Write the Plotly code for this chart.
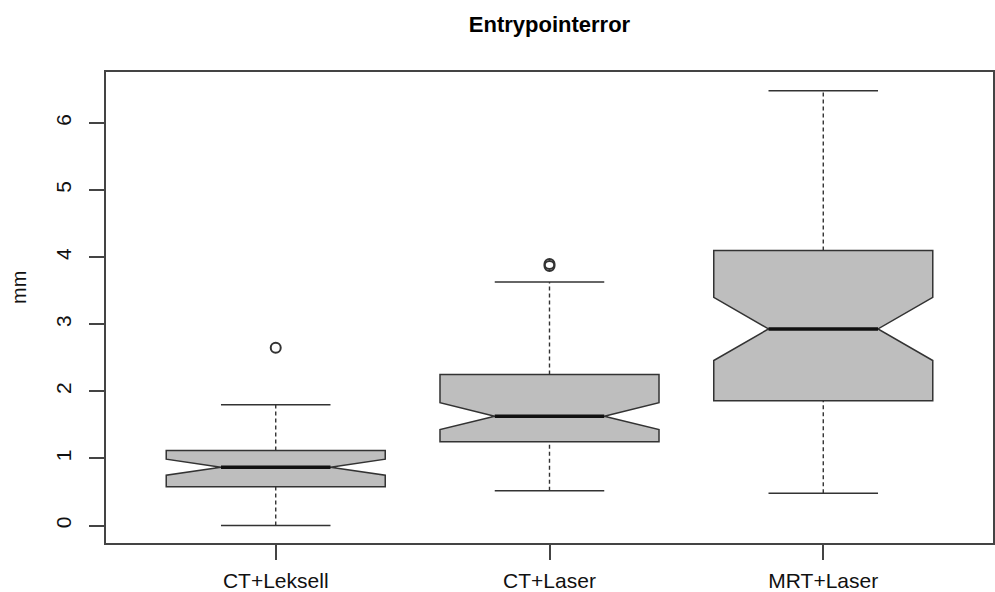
import plotly.graph_objects as go

# Entry point error (mm) per targeting method
categories = ["CT+Leksell", "CT+Laser", "MRT+Laser"]
lower_whisker = [0.00, 0.52, 0.48]
q1 = [0.58, 1.25, 1.86]
median = [0.87, 1.63, 2.93]
q3 = [1.12, 2.25, 4.10]
upper_whisker = [1.80, 3.63, 6.48]
notch_half = [0.12, 0.20, 0.47]

outlier_group = [0, 1, 1]
outlier_value = [2.65, 3.87, 3.90]

y_ticks = [0, 1, 2, 3, 4, 5, 6]

pos = [i + 1 for i in range(len(categories))]
edge = "#333333"
fill = "#bebebe"
font_family = "Liberation Sans, Arial, sans-serif"

fig = go.Figure()

# dashed whiskers, drawn under the boxes
wx, wy = [], []
for p, lo, a, b, hi in zip(pos, lower_whisker, q1, q3, upper_whisker):
    wx += [p, p, None, p, p, None]
    wy += [lo, a, None, b, hi, None]
fig.add_trace(go.Scatter(x=wx, y=wy, mode="lines",
                         line=dict(color=edge, width=1.4, dash="4px,3px"),
                         hoverinfo="skip", showlegend=False))

# whisker caps
cx, cy = [], []
for p, lo, hi in zip(pos, lower_whisker, upper_whisker):
    cx += [p - 0.2, p + 0.2, None, p - 0.2, p + 0.2, None]
    cy += [lo, lo, None, hi, hi, None]
fig.add_trace(go.Scatter(x=cx, y=cy, mode="lines",
                         line=dict(color=edge, width=1.5),
                         hoverinfo="skip", showlegend=False))

# notched boxes from precomputed statistics
fig.add_trace(go.Box(
    x=pos, q1=q1, median=median, q3=q3,
    lowerfence=q1, upperfence=q3,
    notched=True, notchspan=notch_half, notchwidth=0.25,
    width=0.8, whiskerwidth=0,
    fillcolor=fill, line=dict(color=edge, width=1.5),
    showlegend=False, hoverinfo="skip",
))

# heavy median bars
mx, my = [], []
for p, m in zip(pos, median):
    mx += [p - 0.2, p + 0.2, None]
    my += [m, m, None]
fig.add_trace(go.Scatter(x=mx, y=my, mode="lines",
                         line=dict(color="#111111", width=3.5),
                         hoverinfo="skip", showlegend=False))

# outliers
fig.add_trace(go.Scatter(
    x=[pos[g] for g in outlier_group], y=outlier_value, mode="markers",
    marker=dict(symbol="circle-open", size=10, color=edge,
                line=dict(width=2, color=edge)),
    hoverinfo="skip", showlegend=False))

axis_common = dict(showline=True, linecolor="#444444", linewidth=1.5,
                   mirror=True, ticks="outside", ticklen=15,
                   tickcolor="#444444", tickwidth=1.5,
                   showgrid=False, zeroline=False, automargin=False,
                   tickfont=dict(family=font_family, size=21, color="#111111"))

fig.update_layout(
    width=995, height=592,
    margin=dict(l=106, r=2, t=72, b=49),
    paper_bgcolor="white", plot_bgcolor="white",
    title=dict(text="<b>Entrypointerror</b>", x=0.5, xref="paper",
               y=1 - 24 / 592, yref="container", yanchor="middle",
               font=dict(family=font_family, size=22, color="#000000")),
    xaxis=dict(range=[0.38, 3.62], tickmode="array", tickvals=pos,
               ticktext=categories, ticklabelstandoff=3, **axis_common),
    yaxis=dict(range=[-0.26, 6.76], tickmode="array", tickvals=y_ticks,
               ticktext=[str(t) for t in y_ticks], tickangle=-90,
               ticklabelstandoff=10, **axis_common),
    annotations=[dict(text="mm", textangle=-90, showarrow=False,
                      xref="paper", yref="paper",
                      x=(19 - 106) / 887, y=(543 - 288) / 471,
                      xanchor="center", yanchor="middle",
                      font=dict(family=font_family, size=20, color="#111111"))],
)

fig.write_html("out.html")
